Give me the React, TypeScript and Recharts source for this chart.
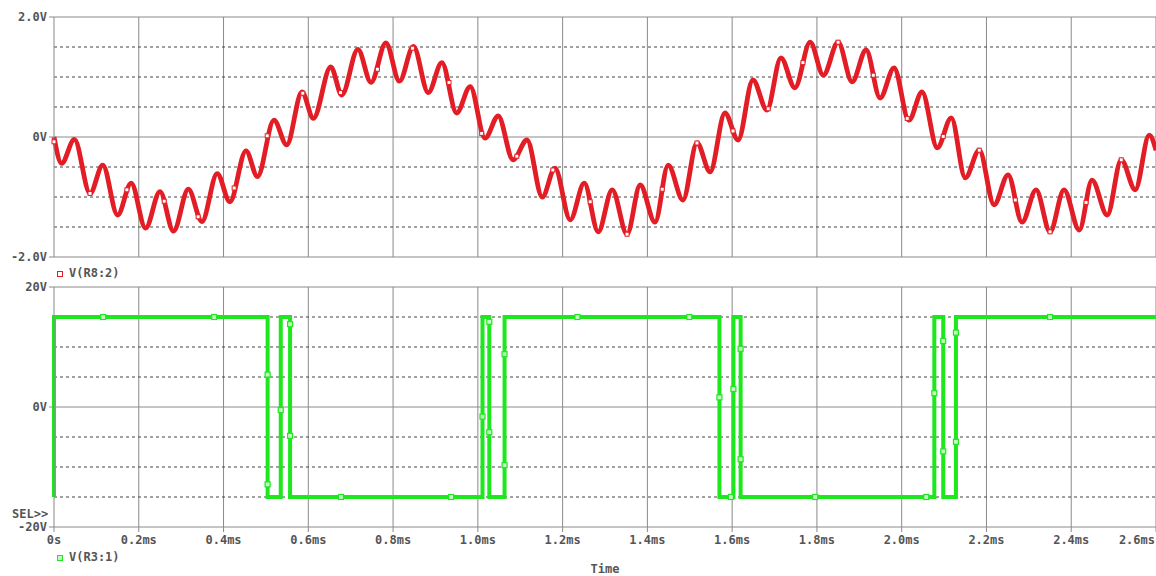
import React from "react";
import {
  ComposedChart,
  Line,
  Scatter,
  XAxis,
  YAxis,
  ReferenceLine,
} from "recharts";

// time axis (ms)
const timeTicks = [0, 0.2, 0.4, 0.6, 0.8, 1.0, 1.2, 1.4, 1.6, 1.8, 2.0, 2.2, 2.4, 2.6];

// V(R8:2) - ripple peaks / troughs
const redTimes = [
  0, 0.018, 0.048, 0.085, 0.115, 0.15, 0.182, 0.216, 0.25, 0.282, 0.317, 0.349, 0.385, 0.415,
  0.453, 0.48, 0.519, 0.549, 0.585, 0.612, 0.653, 0.679, 0.717, 0.748, 0.783, 0.815, 0.848,
  0.883, 0.915, 0.95, 0.982, 1.017, 1.048, 1.083, 1.116, 1.152, 1.182, 1.218, 1.251, 1.284,
  1.317, 1.352, 1.383, 1.418, 1.449, 1.484, 1.517, 1.548, 1.583, 1.614, 1.649, 1.682, 1.715,
  1.748, 1.784, 1.815, 1.85, 1.883, 1.916, 1.949, 1.982, 2.017, 2.048, 2.084, 2.117, 2.15,
  2.183, 2.218, 2.251, 2.284, 2.317, 2.35, 2.383, 2.419, 2.449, 2.485, 2.518, 2.551, 2.584, 2.6,
];
const redVolts = [
  0, -0.44, -0.04, -0.94, -0.47, -1.3, -0.77, -1.52, -0.91, -1.57, -0.87, -1.41, -0.61, -1.08,
  -0.23, -0.66, 0.28, -0.13, 0.75, 0.31, 1.17, 0.7, 1.46, 0.91, 1.57, 0.93, 1.51,
  0.74, 1.24, 0.4, 0.84, -0.02, 0.35, -0.38, -0.05, -1.0, -0.52, -1.38, -0.77, -1.58,
  -0.88, -1.62, -0.8, -1.42, -0.47, -1.05, -0.1, -0.58, 0.4, -0.05, 0.95, 0.45, 1.32,
  0.82, 1.58, 1.03, 1.58, 0.92, 1.45, 0.65, 1.15, 0.28, 0.75, -0.18, 0.32, -0.68,
  -0.22, -1.13, -0.63, -1.42, -0.88, -1.58, -0.88, -1.55, -0.72, -1.3, -0.38, -0.88, 0.03, -0.22,
];
const redMarkT = [
  0, 0.085, 0.172, 0.26, 0.34, 0.425, 0.503, 0.587, 0.676, 0.763, 0.846, 0.932, 1.009, 1.092,
  1.177, 1.265, 1.352, 1.435, 1.517, 1.602, 1.685, 1.767, 1.85, 1.933, 2.013, 2.098, 2.183,
  2.268, 2.35, 2.435, 2.518,
];
const redMarkV = [
  -0.08, -0.94, -0.88, -1.07, -1.33, -0.85, 0.02, 0.73, 0.74, 1.13, 1.48, 0.91, 0.06, -0.32,
  -0.55, -1.08, -1.62, -0.87, -0.1, 0.1, 0.47, 1.24, 1.58, 1.03, 0.31, 0.01, -0.22,
  -1.05, -1.58, -1.09, -0.38,
];

// V(R3:1) - comparator output, switching edges
const greenTimes = [
  0, 0, 0.504, 0.504, 0.535, 0.535, 0.557, 0.557, 1.011, 1.011, 1.027, 1.027, 1.063, 1.063,
  1.57, 1.57, 1.603, 1.603, 1.62, 1.62, 2.077, 2.077, 2.098, 2.098, 2.128, 2.128, 2.6,
];
const greenVolts = [
  -15, 15, 15, -15, -15, 15, 15, -15, -15, 15, 15, -15, -15, 15,
  15, -15, -15, 15, 15, -15, -15, 15, 15, -15, -15, 15, 15,
];
const greenMarkT = [
  0.116, 0.378, 0.504, 0.504, 0.535, 0.557, 0.557, 0.677, 0.937, 1.011, 1.027, 1.027, 1.063,
  1.063, 1.235, 1.499, 1.57, 1.603, 1.62, 1.62, 1.597, 1.796, 2.058, 2.077, 2.098, 2.098,
  2.128, 2.128, 2.35,
];
const greenMarkV = [
  15, 15, 5.4, -12.9, -0.5, 13.8, -4.8, -15, -15, -1.6, 14.2, -4.2, 8.8,
  -9.7, 15, 15, 1.6, 3.0, 9.7, -8.7, -15, -15, -15, 2.3, 11, -7.4,
  12.4, -5.8, 15,
];

const redData = redTimes.map((t, i) => ({ t, v: redVolts[i] }));
const redMarks = redMarkT.map((t, i) => ({ t, v: redMarkV[i] }));
const greenData = greenTimes.map((t, i) => ({ t, v: greenVolts[i] }));
const greenMarks = greenMarkT.map((t, i) => ({ t, v: greenMarkV[i] }));

const RED = "#e31d25";
const GREEN = "#1de81d";
const GRID = "#8a8a8a";
const DASH = "#444";
const FONT = "'DejaVu Sans Mono', monospace";

const tickStyle = { fontFamily: FONT, fontSize: 12, fontWeight: 700, fill: "#555" };

const redDot = (p: any) => (
  <rect x={p.cx - 2} y={p.cy - 2} width={4} height={4} fill="#fff" stroke={RED} strokeWidth={1} />
);
const greenDot = (p: any) => (
  <rect x={p.cx - 2.5} y={p.cy - 2.5} width={5} height={5} fill="#c8f8c8" stroke={GREEN} strokeWidth={1.2} />
);

const fmtTime = (v: number) => (v === 0 ? "0s" : `${v.toFixed(1)}ms`);

const TimeTick = (props: any) => {
  const { x, y, payload } = props;
  const last = payload.value >= 2.59;
  return (
    <text
      x={last ? 1155 : x}
      y={y + 10}
      textAnchor={last ? "end" : "middle"}
      style={tickStyle}
    >
      {fmtTime(payload.value)}
    </text>
  );
};

function Label({ x, y, children, anchor = "left" }: any) {
  return (
    <div
      style={{
        position: "absolute",
        left: x,
        top: y,
        transform: anchor === "center" ? "translate(-50%, -50%)" : "translateY(-50%)",
        fontFamily: FONT,
        fontSize: 12,
        fontWeight: 700,
        color: "#555",
        whiteSpace: "nowrap",
        lineHeight: 1,
      }}
    >
      {children}
    </div>
  );
}

export default function App() {
  return (
    <div style={{ position: "absolute", left: 0, top: 0, width: 1156, height: 576, background: "#fff", overflow: "hidden" }}>
      {/* top panel: V(R8:2) */}
      <div style={{ position: "absolute", left: 0, top: 0 }}>
        <ComposedChart width={1156} height={270} margin={{ top: 17, right: 0, left: 0, bottom: 13 }}>
          <XAxis dataKey="t" type="number" domain={[0, 2.6]} ticks={timeTicks} hide />
          <YAxis
            type="number"
            domain={[-2, 2]}
            ticks={[-2, 0, 2]}
            width={54}
            tickFormatter={(v: number) => (v === 0 ? "0V" : `${v.toFixed(1)}V`)}
            tick={tickStyle}
            axisLine={{ stroke: GRID }}
            tickLine={{ stroke: GRID }}
            tickSize={5}
          />
          {timeTicks.slice(1).map((t) => (
            <ReferenceLine key={"v" + t} x={t} stroke={GRID} />
          ))}
          {[-1.5, -1, -0.5, 0.5, 1, 1.5].map((v) => (
            <ReferenceLine key={"h" + v} y={v} stroke={DASH} strokeDasharray="3 3" />
          ))}
          <ReferenceLine y={0} stroke={GRID} />
          <ReferenceLine y={2} stroke={GRID} />
          <ReferenceLine y={-2} stroke={GRID} />
          <Line
            data={redData}
            dataKey="v"
            type="monotone"
            stroke={RED}
            strokeWidth={4.8}
            dot={false}
            isAnimationActive={false}
          />
          <Scatter data={redMarks} dataKey="v" shape={redDot} isAnimationActive={false} />
        </ComposedChart>
      </div>

      {/* bottom panel: V(R3:1) */}
      <div style={{ position: "absolute", left: 0, top: 270 }}>
        <ComposedChart width={1156} height={306} margin={{ top: 17, right: 0, left: 0, bottom: 0 }}>
          <XAxis
            dataKey="t"
            type="number"
            domain={[0, 2.6]}
            ticks={timeTicks}
            height={49}
            tick={<TimeTick />}
            axisLine={{ stroke: GRID }}
            tickLine={{ stroke: GRID }}
            tickSize={5}
          />
          <YAxis
            type="number"
            domain={[-20, 20]}
            ticks={[-20, 0, 20]}
            width={54}
            tickFormatter={(v: number) => `${v}V`}
            tick={tickStyle}
            axisLine={{ stroke: GRID }}
            tickLine={{ stroke: GRID }}
            tickSize={5}
          />
          {timeTicks.slice(1).map((t) => (
            <ReferenceLine key={"v" + t} x={t} stroke={GRID} />
          ))}
          {[-15, -10, -5, 5, 10, 15].map((v) => (
            <ReferenceLine key={"h" + v} y={v} stroke={DASH} strokeDasharray="3 3" />
          ))}
          <ReferenceLine y={0} stroke={GRID} />
          <ReferenceLine y={20} stroke={GRID} />
          <Line
            data={greenData}
            dataKey="v"
            type="linear"
            stroke={GREEN}
            strokeWidth={4}
            dot={false}
            isAnimationActive={false}
          />
          <Scatter data={greenMarks} dataKey="v" shape={greenDot} isAnimationActive={false} />
        </ComposedChart>
      </div>

      {/* legends and captions */}
      <div style={{ position: "absolute", left: 57, top: 271, width: 4, height: 4, border: `1px solid ${RED}` }} />
      <Label x={69} y={273}>V(R8:2)</Label>
      <div style={{ position: "absolute", left: 57, top: 555, width: 4, height: 4, border: `1px solid ${GREEN}`, background: "#c8f8c8" }} />
      <Label x={69} y={557}>V(R3:1)</Label>
      <Label x={12} y={514}>SEL&gt;&gt;</Label>
      <Label x={605} y={569} anchor="center">Time</Label>
    </div>
  );
}
